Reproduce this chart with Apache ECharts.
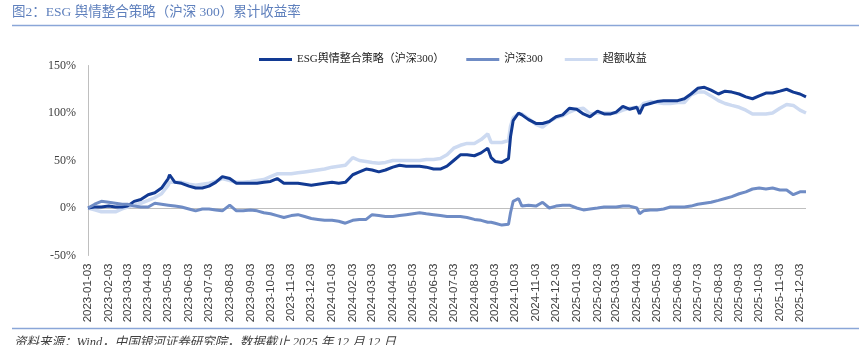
<!DOCTYPE html>
<html>
<head>
<meta charset="utf-8">
<script src="https://cdn.jsdelivr.net/npm/echarts@6/dist/echarts.min.js"></script>
<style>
html,body{margin:0;padding:0;background:#fff;}
#chart{width:859px;height:345px;}
</style>
</head>
<body>
<div id="chart"></div>
<script>
// ---- Data ----
var titleText = '图2：ESG 舆情整合策略（沪深 300）累计收益率';
var sourceText = '资料来源：Wind，中国银河证券研究院，数据截止 2025 年 12 月 12 日';
var seriesNames = ['ESG舆情整合策略（沪深300）', '沪深300', '超额收益'];
var startDate = '2023-01-03';
var endDate = '2025-12-12';
var yTicks = [-50, 0, 50, 100, 150];

var sampleDates = [
 '2023-01-03','2023-01-13','2023-01-23',
 '2023-02-03','2023-02-13','2023-02-23',
 '2023-03-03','2023-03-13','2023-03-23',
 '2023-04-03','2023-04-13','2023-04-23',
 '2023-05-03','2023-05-05','2023-05-13','2023-05-23',
 '2023-06-03','2023-06-13','2023-06-23',
 '2023-07-03','2023-07-13','2023-07-23',
 '2023-08-03','2023-08-13','2023-08-23',
 '2023-09-03','2023-09-13','2023-09-23',
 '2023-10-03','2023-10-13','2023-10-23',
 '2023-11-03','2023-11-13','2023-11-23',
 '2023-12-03','2023-12-13','2023-12-23',
 '2024-01-03','2024-01-13','2024-01-23',
 '2024-02-03','2024-02-13','2024-02-23',
 '2024-03-03','2024-03-13','2024-03-23',
 '2024-04-03','2024-04-13','2024-04-23',
 '2024-05-03','2024-05-13','2024-05-23',
 '2024-06-03','2024-06-13','2024-06-23',
 '2024-07-03','2024-07-13','2024-07-23',
 '2024-08-03','2024-08-13','2024-08-23','2024-08-28',
 '2024-09-03','2024-09-13','2024-09-23','2024-09-26','2024-09-30',
 '2024-10-08','2024-10-13','2024-10-23',
 '2024-11-03','2024-11-13','2024-11-23',
 '2024-12-03','2024-12-13','2024-12-23',
 '2025-01-03','2025-01-13','2025-01-23',
 '2025-02-03','2025-02-13','2025-02-23',
 '2025-03-03','2025-03-13','2025-03-23',
 '2025-04-03','2025-04-07','2025-04-13','2025-04-23',
 '2025-05-03','2025-05-13','2025-05-23',
 '2025-06-03','2025-06-13','2025-06-23',
 '2025-07-03','2025-07-13','2025-07-23',
 '2025-08-03','2025-08-13','2025-08-23',
 '2025-09-03','2025-09-13','2025-09-23',
 '2025-10-03','2025-10-13','2025-10-23',
 '2025-11-03','2025-11-13','2025-11-23',
 '2025-12-03','2025-12-12'
];

var esgValues = [
 0,1,1,
 2,1,1,
 2,7,9,
 14,16,21,
 31,35,27,26,
 23,21,21,
 23,27,33,
 31,26,26,
 26,26,27,
 28,31,26,
 26,26,25,
 24,25,26,
 27,26,27,
 35,38,41,
 40,38,40,
 43,45,44,
 44,44,43,
 41,41,44,
 50,56,56,
 55,58,63,53,
 49,48,52,75,92,
 100,98,93,
 89,89,91,
 96,98,105,
 104,99,96,
 102,99,99,
 101,107,104,
 106,99,108,110,
 112,113,113,
 113,115,120,
 126,127,124,
 120,123,122,
 120,117,115,
 118,121,121,
 123,125,122,
 120,117
];

var csi300Values = [
 0,4,7,
 6,5,4,
 4,2,1,
 1,5,4,
 3,3,2,1,
 -1,-3,-1,
 -1,-2,-3,
 3,-3,-3,
 -2,-3,-5,
 -6,-8,-10,
 -8,-7,-9,
 -11,-12,-13,
 -13,-14,-16,
 -13,-12,-12,
 -7,-8,-9,
 -9,-8,-7,
 -6,-5,-6,
 -7,-8,-9,
 -9,-9,-10,
 -12,-13,-15,-15,
 -16,-18,-17,-5,7,
 10,2,3,
 2,6,0,
 2,3,3,
 0,-2,-1,
 0,1,1,
 1,2,2,
 0,-6,-3,-2,
 -2,-1,1,
 1,1,2,
 4,5,6,
 8,10,12,
 15,17,20,
 21,20,21,
 19,19,14,
 17,17
];

var excessValues = [
 0,-2,-4,
 -4,-4,-1,
 1,3,5,
 8,11,15,
 24,27,27,27,
 25,24,25,
 26,28,31,
 29,27,27,
 28,29,30,
 33,36,36,
 36,37,38,
 39,40,41,
 43,44,45,
 53,50,49,
 48,47,48,
 50,50,50,
 50,50,51,
 51,52,56,
 63,66,68,
 68,72,78,69,
 69,69,71,86,95,
 99,99,94,
 88,85,91,
 95,97,101,
 104,105,99,
 100,100,100,
 100,103,105,
 106,105,110,112,
 111,110,110,
 111,111,119,
 122,122,118,
 113,110,108,
 106,103,99,
 99,99,100,
 105,109,108,
 103,100
];

// ---- Build categories (every calendar day) ----
function pad(n){ return n < 10 ? '0' + n : '' + n; }
function buildDays(a, b){
  var out = [];
  var p = a.split('-'), q = b.split('-');
  var d = new Date(Date.UTC(+p[0], +p[1]-1, +p[2]));
  var e = new Date(Date.UTC(+q[0], +q[1]-1, +q[2]));
  while (d <= e) {
    out.push(d.getUTCFullYear() + '-' + pad(d.getUTCMonth()+1) + '-' + pad(d.getUTCDate()));
    d = new Date(d.getTime() + 86400000);
  }
  return out;
}
var categories = buildDays(startDate, endDate);
function pairs(vals){ return sampleDates.map(function(d, i){ return [d, vals[i]]; }); }

var serifFont = '"Liberation Serif", "Noto Sans CJK SC", serif';
var colors = ['#123a93', '#6f8cc5', '#cddaf1'];

var chart = echarts.init(document.getElementById('chart'), null, {renderer: 'canvas'});
chart.setOption({
  animation: false,
  backgroundColor: '#ffffff',
  color: colors,
  grid: {left: 88, right: 53, top: 65.5, bottom: 89.5, containLabel: false},
  legend: {
    left: 254, top: 49,
    itemWidth: 33, itemHeight: 3, itemGap: 22,
    icon: 'rect',
    textStyle: {fontFamily: serifFont, fontSize: 11, color: '#222'},
    data: seriesNames
  },
  xAxis: {
    type: 'category',
    data: categories,
    boundaryGap: false,
    axisLine: {show: false},
    axisTick: {show: false},
    axisLabel: {
      rotate: 90,
      margin: 8,
      fontFamily: '"Liberation Sans", Arial, sans-serif',
      fontSize: 11.5,
      color: '#404040',
      interval: function(idx, val){ return val.slice(8) === '03'; }
    },
    splitLine: {show: false}
  },
  yAxis: {
    type: 'value',
    min: yTicks[0], max: yTicks[yTicks.length-1], interval: 50,
    axisLine: {show: true, lineStyle: {color: '#bfbfbf', width: 1}},
    axisTick: {show: false},
    splitLine: {show: false},
    axisLabel: {
      formatter: '{value}%',
      margin: 12,
      fontFamily: serifFont,
      fontSize: 12,
      color: '#404040'
    }
  },
  series: [
    {
      name: seriesNames[0], type: 'line', data: pairs(esgValues),
      showSymbol: false, symbol: 'none',
      lineStyle: {width: 3, color: colors[0]},
      z: 3,
      markLine: {
        silent: true, symbol: 'none', animation: false,
        label: {show: false},
        lineStyle: {color: '#bfbfbf', width: 1, type: 'solid'},
        data: [{yAxis: 0}],
        z: 1
      }
    },
    {
      name: seriesNames[1], type: 'line', data: pairs(csi300Values),
      showSymbol: false, symbol: 'none',
      lineStyle: {width: 3, color: colors[1]},
      z: 4
    },
    {
      name: seriesNames[2], type: 'line', data: pairs(excessValues),
      showSymbol: false, symbol: 'none',
      lineStyle: {width: 3.5, color: colors[2]},
      z: 2
    }
  ],
  graphic: [
    {type: 'text', left: 12, top: 6,
     style: {text: titleText, font: '13.5px ' + serifFont, fill: '#5f80bd'}},
    {type: 'line', shape: {x1: 12, y1: 25.5, x2: 859, y2: 25.5},
     style: {stroke: '#8aa6d8', lineWidth: 1.5}},
    {type: 'line', shape: {x1: 12, y1: 328.5, x2: 859, y2: 328.5},
     style: {stroke: '#8aa6d8', lineWidth: 1.5}},
    {type: 'text', left: 14, top: 336,
     style: {text: sourceText, font: 'italic 12.5px ' + serifFont, fill: '#404040'}}
  ]
});
</script>
</body>
</html>
